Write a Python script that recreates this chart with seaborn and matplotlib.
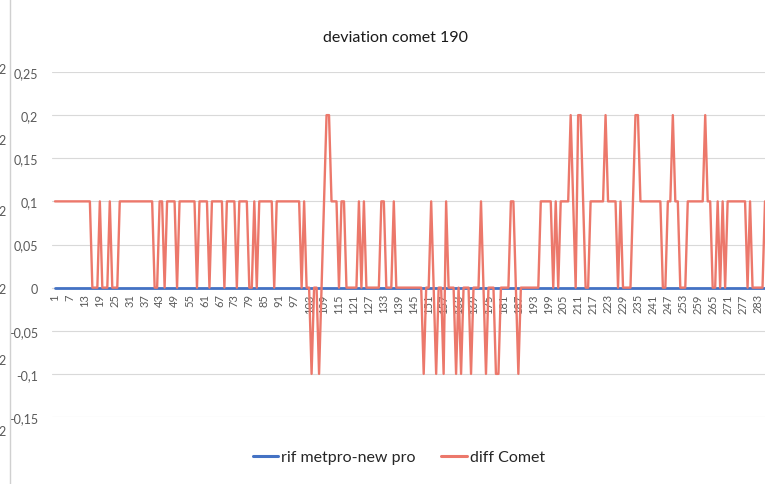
import matplotlib
matplotlib.use("Agg")
import matplotlib.pyplot as plt
from matplotlib.lines import Line2D
import pandas as pd
import seaborn as sns

# ---------------- data ----------------
categories = list(range(1, 289))

# flat series (all at 0)
rif_metpro = [0.0] * 288

diff_comet = [
    0.1, 0.1, 0.1, 0.1, 0.1, 0.1, 0.1, 0.1, 0.1, 0.1, 0.1, 0.1,        # 1-12
    0.1, 0.1, 0.1, 0, 0, 0, 0.1, 0, 0, 0, 0.1, 0,                      # 13-24
    0, 0, 0.1, 0.1, 0.1, 0.1, 0.1, 0.1, 0.1, 0.1, 0.1, 0.1,            # 25-36
    0.1, 0.1, 0.1, 0.1, 0, 0, 0.1, 0.1, 0, 0.1, 0.1, 0.1,              # 37-48
    0.1, 0, 0.1, 0.1, 0.1, 0.1, 0.1, 0.1, 0.1, 0, 0.1, 0.1,            # 49-60
    0.1, 0.1, 0, 0.1, 0.1, 0.1, 0.1, 0.1, 0, 0.1, 0.1, 0.1,            # 61-72
    0.1, 0, 0.1, 0.1, 0.1, 0.1, 0, 0, 0.1, 0, 0.1, 0.1,                # 73-84
    0.1, 0.1, 0.1, 0.1, 0, 0.1, 0.1, 0.1, 0.1, 0.1, 0.1, 0.1,          # 85-96
    0.1, 0.1, 0.1, 0, 0.1, 0, 0, -0.1, 0, 0, -0.1, 0,                  # 97-108
    0.1, 0.2, 0.2, 0.1, 0.1, 0.1, 0, 0.1, 0.1, 0, 0, 0,                # 109-120
    0, 0, 0.1, 0, 0.1, 0, 0, 0, 0, 0, 0, 0.1,                          # 121-132
    0.1, 0, 0, 0, 0.1, 0, 0, 0, 0, 0, 0, 0,                            # 133-144
    0, 0, 0, 0, -0.1, 0, 0, 0.1, 0, -0.1, 0, 0,                        # 145-156
    -0.1, 0.1, 0, 0, 0, -0.1, 0, -0.1, 0, 0, 0, -0.1,                  # 157-168
    0, 0, 0, 0.1, 0, -0.1, 0, 0, 0, -0.1, -0.1, 0,                     # 169-180
    0, 0, 0, 0.1, 0.1, 0, -0.1, 0, 0, 0, 0, 0,                         # 181-192
    0, 0, 0, 0.1, 0.1, 0.1, 0.1, 0.1, 0, 0.1, 0, 0.1,                  # 193-204
    0.1, 0.1, 0.1, 0.2, 0.1, 0, 0.2, 0.2, 0.1, 0, 0, 0.1,              # 205-216
    0.1, 0.1, 0.1, 0.1, 0.1, 0.2, 0.1, 0.1, 0.1, 0.1, 0, 0.1,          # 217-228
    0, 0, 0, 0, 0.1, 0.2, 0.2, 0.1, 0.1, 0.1, 0.1, 0.1,                # 229-240
    0.1, 0.1, 0.1, 0.1, 0, 0, 0.1, 0.1, 0.2, 0.1, 0.1, 0,              # 241-252
    0, 0, 0.1, 0.1, 0.1, 0.1, 0.1, 0.1, 0.1, 0.2, 0.1, 0.1,            # 253-264
    0, 0, 0.1, 0, 0.1, 0, 0.1, 0.1, 0.1, 0.1, 0.1, 0.1,                # 265-276
    0.1, 0.1, 0, 0.1, 0, 0, 0, 0, 0, 0.1, 0.1, 0.1,                    # 277-288
]

series_names = ["rif metpro-new pro", "diff Comet"]
series_colors = ["#4472C4", "#EC786B"]

y_ticks = [-0.15, -0.1, -0.05, 0, 0.05, 0.1, 0.15, 0.2, 0.25]
y_tick_labels = ["-0,15", "-0,1", "-0,05", "0", "0,05", "0,1", "0,15", "0,2", "0,25"]
x_tick_cats = categories[::6]
x_tick_labels = [str(c) for c in x_tick_cats]

title = "deviation comet 190"

# ---------------- plotting ----------------
sns.set_style("white")
FONT = ["Lato", "DejaVu Sans"]
plt.rcParams["font.family"] = FONT

W, H = 765, 485
fig = plt.figure(figsize=(W / 100, H / 100), dpi=100)
ax = fig.add_axes([52 / W, 1 - 418 / H, (W - 52) / W, (418 - 73) / H])

df = pd.DataFrame({
    "cat": categories * 2,
    "value": rif_metpro + diff_comet,
    "series": [series_names[0]] * len(categories) + [series_names[1]] * len(categories),
})

sns.lineplot(data=df[df.series == series_names[0]], x="cat", y="value",
             color=series_colors[0], lw=2.0, ax=ax, legend=False, zorder=3)
sns.lineplot(data=df[df.series == series_names[1]], x="cat", y="value",
             color=series_colors[1], lw=1.7, ax=ax, legend=False, zorder=4)

# category axis crosses at 0 (set before tick labels: set_position resets ticks)
for s in ["top", "right", "left"]:
    ax.spines[s].set_visible(False)
ax.spines["bottom"].set_position(("data", 0))
ax.spines["bottom"].set_color("#D9D9D9")

ax.set_xlim(-0.2, 286.0)
ax.set_ylim(-0.15, 0.25)

ax.set_yticks(y_ticks)
ax.set_yticklabels(y_tick_labels)
ax.set_xticks(x_tick_cats)
ax.set_xticklabels(x_tick_labels, rotation=90, va="top", ha="center")

ax.grid(axis="y", color="#D9D9D9", lw=0.8)
ax.grid(axis="x", visible=False)
ax.tick_params(axis="y", length=0, pad=10, labelsize=9, labelcolor="#595959")
ax.tick_params(axis="x", length=0, pad=4, labelsize=8, labelcolor="#595959")
ax.set_xlabel("")
ax.set_ylabel("")

fig.text(395 / W, 1 - 38 / H, title, ha="center", va="center",
         fontsize=11.5, color="#1a1a1a")

handles = [Line2D([0], [0], color=c, lw=2.2) for c in series_colors]
fig.legend(handles, series_names, loc="center", bbox_to_anchor=(399 / W, 1 - 458 / H),
           ncol=2, frameon=False, fontsize=11.5, handlelength=1.6, handletextpad=0.2,
           columnspacing=1.6, labelcolor="#262626")

# neighbouring panel edge visible at the left of the screenshot
fig.add_artist(Line2D([10 / W, 10 / W], [0, 1], color="#D0D0D0", lw=1.0))
for yy in [70, 141, 212, 290, 361, 432]:
    fig.text(-2 / W, 1 - yy / H, "2", ha="left", va="center", fontsize=9, color="#595959")

fig.savefig("out.png", dpi=100)
